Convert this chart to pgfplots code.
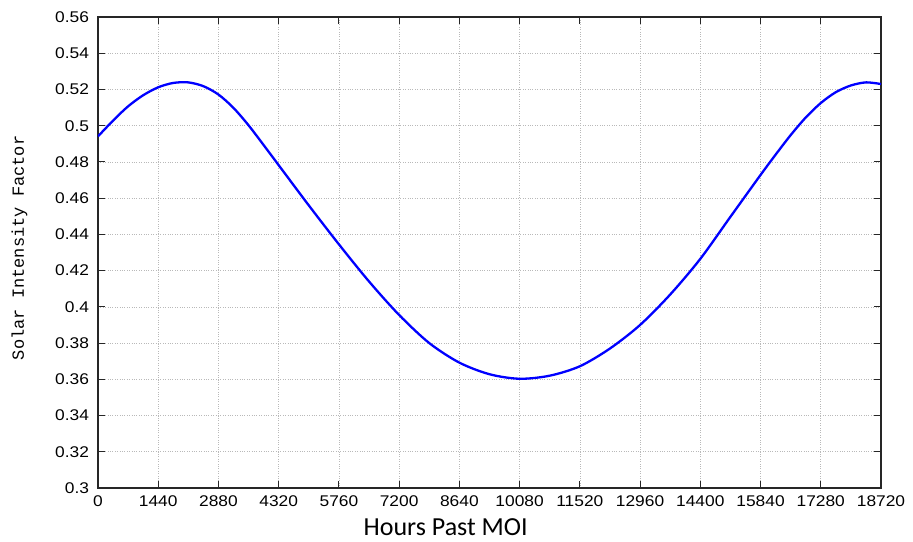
\documentclass[border=0pt]{standalone}
\usepackage{fontspec}
\setmainfont{Liberation Sans}
\newfontfamily\monofont{Liberation Mono}
\newfontfamily\carlito{Carlito}
\usepackage{pgfplots}
\pgfplotsset{compat=1.18}
\begin{document}
\begin{tikzpicture}
\useasboundingbox (-98pt,-53pt) rectangle (815pt,488pt);
\begin{axis}[
  at={(0pt,0pt)}, anchor=south west,
  scale only axis, width=783pt, height=471pt,
  xmin=0, xmax=18720, ymin=0.3, ymax=0.56,
  xtick={0,1440,2880,4320,5760,7200,8640,10080,11520,12960,14400,15840,17280,18720},
  ytick={0.3,0.32,0.34,0.36,0.38,0.4,0.42,0.44,0.46,0.48,0.5,0.52,0.54,0.56},
  scaled x ticks=false, scaled y ticks=false,
  tick align=inside, major tick length=7pt,
  grid=major, grid style={dotted, gray!55, line width=0.6pt},
  axis line style={line width=1.2pt, black!85},
  tick style={black!85, line width=1pt},
  /pgf/number format/assume math mode=true,
  xticklabel style={font=\fontsize{15.5}{18}\selectfont, xscale=1.12, yshift=-4pt, /pgf/number format/set thousands separator={}, /pgf/number format/fixed},
  yticklabel style={font=\fontsize{15.5}{18}\selectfont, xscale=1.12, xshift=-4.5pt, /pgf/number format/fixed, /pgf/number format/precision=2},
  xlabel={Hours Past MOI},
  xlabel style={font=\carlito\fontsize{26}{30}\selectfont, at={(axis description cs:0.444,-0.083)}, anchor=center},
  ylabel={Solar Intensity Factor},
  ylabel style={font=\monofont\fontsize{17}{20}\selectfont, at={(axis description cs:-0.1003,0.51)}, anchor=center},
]
\addplot[color={rgb,255:red,0;green,0;blue,255}, line width=2.3pt, smooth] coordinates {
(0,0.4941) (360,0.5028) (720,0.5107) (1080,0.5168) (1440,0.5212) (1800,0.5236)
(2160,0.5239) (2520,0.5218) (2880,0.5172) (3240,0.5098) (3600,0.5002) (3960,0.4893)
(4320,0.4782) (5040,0.4560) (5760,0.4345) (6480,0.4140) (7200,0.3955)
(7920,0.3800) (8640,0.3692) (9360,0.3628) (10080,0.3603) (10800,0.3620) (11520,0.3672)
(12240,0.3770) (12960,0.3900) (13680,0.4068) (14400,0.4265) (15120,0.4497) (15840,0.4728)
(16200,0.4840) (16560,0.4948) (16920,0.5045) (17280,0.5125) (17640,0.5185) (18000,0.5222)
(18360,0.5239) (18720,0.5230)
};
\end{axis}
\end{tikzpicture}
\end{document}
